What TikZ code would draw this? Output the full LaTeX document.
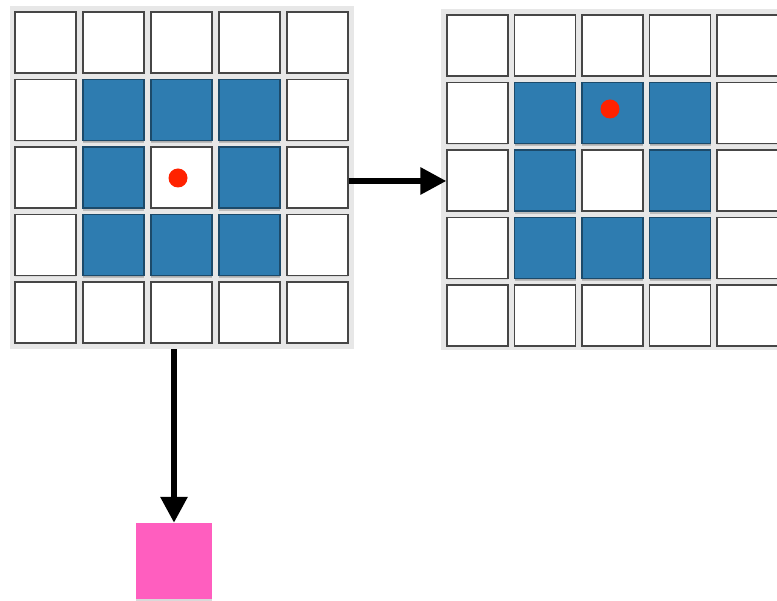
\documentclass[tikz,border=0pt]{standalone}
\usepackage{tikz}
\usetikzlibrary{arrows.meta,shadows}
\definecolor{gridgray}{RGB}{231, 231, 231}
\definecolor{cellline}{RGB}{70, 70, 70}
\definecolor{cellblue}{RGB}{46, 124, 176}
\definecolor{dotred}{RGB}{255, 34, 0}
\definecolor{outpink}{RGB}{255, 94, 191}

\begin{document}
\begin{tikzpicture}[x=1pt, y=-1pt,
    panel/.style={fill=gridgray, inner sep=0pt},
    cell/.style={draw=cellline, line width=1.3pt, fill=white, minimum size=61pt, inner sep=0pt,
      drop shadow={shadow xshift=0pt, shadow yshift=-1.5pt, opacity=0.15}},
    hot/.style={cell, fill=cellblue, draw=cellblue!60!black,
      drop shadow={shadow xshift=0pt, shadow yshift=-3pt, opacity=0.4}},
    dot/.style={circle, fill=dotred, minimum size=19pt, inner sep=0pt},
    arrow/.style={-{Triangle[length=26pt, width=26pt]}, line width=6pt, color=black}
  ]
    \clip (0,0) rectangle (777,601);

    % two grids on grey panels
    \node[panel, minimum width=344pt, minimum height=343pt] (gridL) at (182, 177.5) {};
    \node[panel, minimum width=344pt, minimum height=341pt] (gridR) at (613, 179.5) {};

    \foreach \r in {0,...,4}
      \foreach \c in {0,...,4} {
        \node[cell] (L-\r-\c) at (45.5+68*\c, 42.5+67.5*\r) {};
        \node[cell] (R-\r-\c) at (477.5+67.5*\c, 45.5+67.5*\r) {};
      }
    \foreach \r/\c in {1/1,1/2,1/3,2/1,2/3,3/1,3/2,3/3} {
      \node[hot] (LB-\r-\c) at (L-\r-\c) {};
      \node[hot] (RB-\r-\c) at (R-\r-\c) {};
    }

    \node[dot] (dotL) at (178, 178) {};
    \node[dot] (dotR) at (610, 109) {};

    % output
    \node[fill=outpink, minimum size=76pt, inner sep=0pt,
      drop shadow={shadow xshift=0pt, shadow yshift=-2pt, opacity=0.3}] (pink) at (174, 561) {};

    \coordinate (from) at ([yshift=-3.5pt]L-2-4.east);
    \draw[arrow] (from) -- (from -| R-2-0.west);
    \draw[arrow] (pink.north |- gridL.south) -- (pink.north);
  \end{tikzpicture}
\end{document}
